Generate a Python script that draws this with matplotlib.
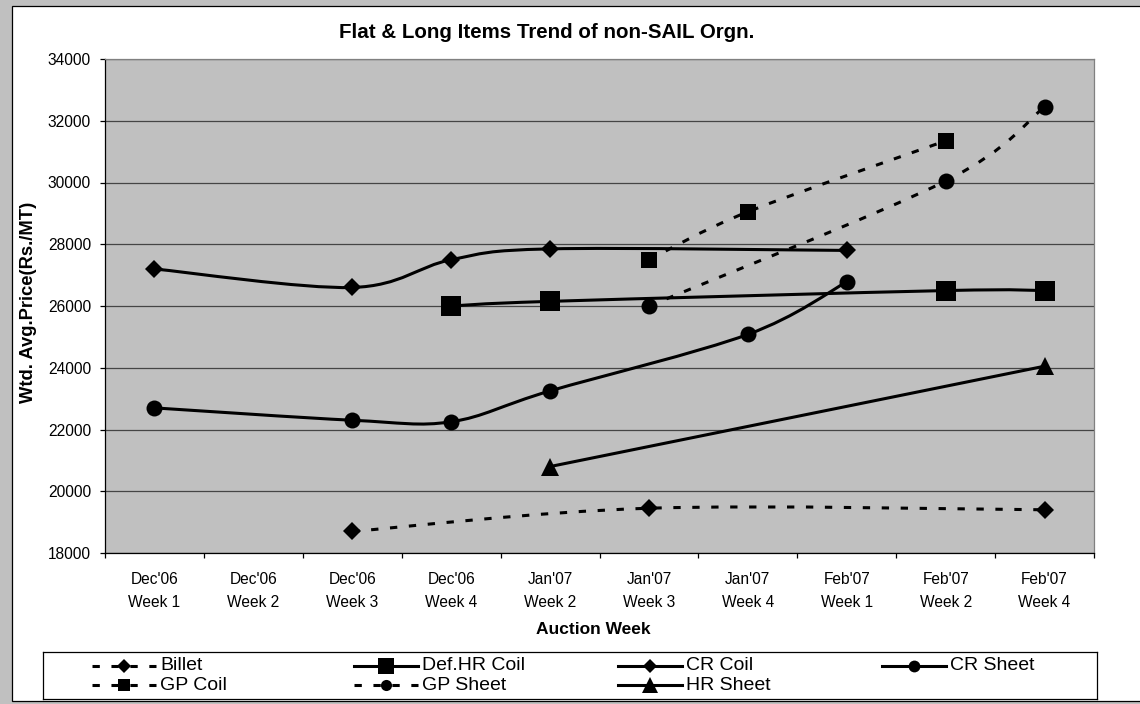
import numpy as np
import matplotlib
matplotlib.use("Agg")
import matplotlib.pyplot as plt
from matplotlib.path import Path
from matplotlib.patches import PathPatch, Rectangle
from matplotlib.lines import Line2D

plt.rcParams['font.family'] = ['Liberation Sans', 'DejaVu Sans']

nan = np.nan

weeks = ["Dec'06\nWeek 1", "Dec'06\nWeek 2", "Dec'06\nWeek 3", "Dec'06\nWeek 4",
         "Jan'07\nWeek 2", "Jan'07\nWeek 3", "Jan'07\nWeek 4", "Feb'07\nWeek 1",
         "Feb'07\nWeek 2", "Feb'07\nWeek 4"]

billet      = [nan, nan, 18700, nan, nan, 19450, nan, nan, nan, 19400]
def_hr_coil = [nan, nan, nan, 26000, 26150, nan, nan, nan, 26500, 26500]
cr_coil     = [27200, nan, 26600, 27500, 27850, nan, nan, 27800, nan, nan]
cr_sheet    = [22700, nan, 22300, 22250, 23250, nan, 25080, 26780, nan, nan]
gp_coil     = [nan, nan, nan, nan, nan, 27500, 29050, nan, 31350, nan]
gp_sheet    = [nan, nan, nan, nan, nan, 26000, nan, nan, 30050, 32450]
hr_sheet    = [nan, nan, nan, nan, 20800, nan, nan, nan, nan, 24050]

y_ticks = [18000, 20000, 22000, 24000, 26000, 28000, 30000, 32000, 34000]

DASH = (0, (2.4, 3.8))
series = [
    # name, values, linestyle, marker, plot markersize, legend markersize
    ("Billet",      billet,      DASH,    "D", 9.5, 7.5),
    ("Def.HR Coil", def_hr_coil, "solid", "s", 14.5, 12.0),
    ("CR Coil",     cr_coil,     "solid", "D", 9.5, 7.5),
    ("CR Sheet",    cr_sheet,    "solid", "o", 11.5, 8.5),
    ("GP Coil",     gp_coil,     DASH,    "s", 11.0, 8.5),
    ("GP Sheet",    gp_sheet,    DASH,    "o", 11.5, 8.0),
    ("HR Sheet",    hr_sheet,    "solid", "^", 13.0, 11.5),
]

W, H = 1140, 704
fig = plt.figure(figsize=(W / 100, H / 100), dpi=100, facecolor="#c0c0c0")


def px(x0, y0, x1, y1):
    """Pixel box (top-left origin) -> figure fraction rect."""
    return [x0 / W, 1 - y1 / H, (x1 - x0) / W, (y1 - y0) / H]


# white chart area with a thin dark border
fig.patches.append(Rectangle((12 / W, 1 - 701 / H), 1.2, (701 - 6) / H,
                             transform=fig.transFigure, facecolor="white",
                             edgecolor="black", linewidth=0.9, zorder=-10))


def smooth_path(xs, ys):
    """Cubic Bezier path through the points (Catmull-Rom style smoothing)."""
    pts = np.column_stack([xs, ys]).astype(float)
    n = len(pts)
    verts = [pts[0]]
    codes = [Path.MOVETO]
    for i in range(n - 1):
        p0 = pts[i - 1] if i > 0 else pts[i]
        p1 = pts[i]
        p2 = pts[i + 1]
        p3 = pts[i + 2] if i + 2 < n else pts[i + 1]
        c1 = p1 + (p2 - p0) / 6.0
        c2 = p2 - (p3 - p1) / 6.0
        verts += [c1, c2, p2]
        codes += [Path.CURVE4] * 3
    return Path(np.array(verts), codes)


ax = fig.add_axes(px(105, 59, 1094, 553))
ax.set_facecolor("#c0c0c0")
x = np.arange(len(weeks))

for name, vals, ls, mk, ms, _ in series:
    v = np.array(vals, dtype=float)
    ok = ~np.isnan(v)
    path = smooth_path(x[ok], v[ok])
    ax.add_patch(PathPatch(path, fill=False, edgecolor="black", linewidth=2.2,
                           linestyle=ls, capstyle="butt", joinstyle="round",
                           zorder=3))
    ax.plot(x[ok], v[ok], linestyle="none", marker=mk, markersize=ms,
            color="black", markeredgewidth=0, zorder=4)

ax.set_xlim(-0.5, len(weeks) - 0.5)
ax.set_ylim(18000, 34000)
ax.set_yticks(y_ticks)
ax.set_yticklabels([str(t) for t in y_ticks])
ax.set_xticks(x)
ax.set_xticklabels(weeks, linespacing=1.65)
ax.set_xticks(np.arange(-0.5, len(weeks), 1.0), minor=True)
ax.tick_params(axis="x", which="major", length=0, pad=14, labelsize=11.2)
ax.tick_params(axis="x", which="minor", length=3.6, width=0.9, direction="out")
ax.tick_params(axis="y", which="major", length=3.6, width=0.9, pad=6.5,
               labelsize=11.2, direction="out")
ax.yaxis.grid(True, color="#454545", linewidth=0.9)
ax.set_axisbelow(True)
for side in ("top", "right"):
    ax.spines[side].set_color("#808080")
    ax.spines[side].set_linewidth(0.9)
for side in ("left", "bottom"):
    ax.spines[side].set_color("black")
    ax.spines[side].set_linewidth(0.9)

fig.text(547 / W, 1 - 32 / H, "Flat & Long Items Trend of non-SAIL Orgn.",
         ha="center", va="center", fontsize=14.8, fontweight="bold")
fig.text(28.5 / W, 1 - 302 / H, "Wtd. Avg.Price(Rs./MT)", rotation=90,
         ha="center", va="center", fontsize=13.2, fontweight="bold")
fig.text(593 / W, 1 - 630 / H, "Auction Week", ha="center", va="center",
         fontsize=12.5, fontweight="bold")

# legend box laid out in a 4-column grid, filled row by row
lax = fig.add_axes(px(43, 652, 1097, 699))
lax.set_xlim(43, 1097)
lax.set_ylim(699, 652)
lax.set_xticks([])
lax.set_yticks([])
lax.set_facecolor("white")
for s in lax.spines.values():
    s.set_color("black")
    s.set_linewidth(0.9)

col_x = [92, 354, 618, 882]
row_y = [666, 685]
for i, (name, vals, ls, mk, ms, lms) in enumerate(series):
    cx = col_x[i % 4]
    ry = row_y[i // 4]
    lax.add_line(Line2D([cx, cx + 64], [ry, ry], color="black", linewidth=2.2,
                        linestyle=ls, dash_capstyle="butt"))
    lax.add_line(Line2D([cx + 32], [ry], color="black", linestyle="none",
                        marker=mk, markersize=lms, markeredgewidth=0))
    lax.text(cx + 68, ry, name, ha="left", va="center", fontsize=14)

fig.savefig("out.png", dpi=100, facecolor=fig.get_facecolor())
